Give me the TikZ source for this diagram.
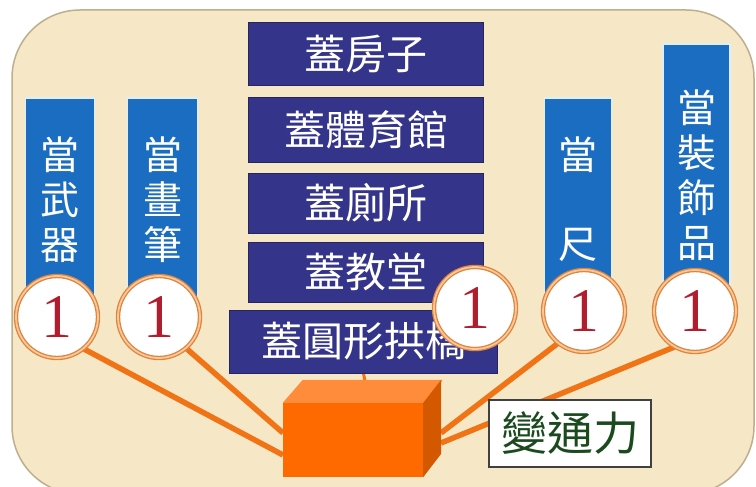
\documentclass[tikz,border=0pt]{standalone}
\usepackage{fontspec}
\newfontfamily\cjk{Noto Sans CJK TC}
\newfontfamily\numfont{Liberation Serif}
\definecolor{bgfill}{HTML}{F6E8C6}
\definecolor{bgline}{HTML}{BDAF8E}
\definecolor{purp}{HTML}{34348A}
\definecolor{purpline}{HTML}{26265E}
\definecolor{blu}{HTML}{1B6DC1}
\definecolor{bluline}{HTML}{DDF0FA}
\definecolor{orln}{HTML}{F07316}
\definecolor{cubefront}{HTML}{FF6A00}
\definecolor{cubetop}{HTML}{FF8C3A}
\definecolor{cubeside}{HTML}{D45800}
\definecolor{ringout}{HTML}{E0843C}
\definecolor{ringin}{HTML}{F6C89C}
\definecolor{numred}{HTML}{B01E2E}
\definecolor{labgreen}{HTML}{1B4A1E}
\pgfdeclarelayer{bg}
\pgfdeclarelayer{mid}
\pgfsetlayers{bg,mid,main}
\tikzset{
  purpbox/.style={draw=purpline, line width=1pt, fill=purp, text=white, inner sep=0pt,
    font=\cjk\fontsize{41}{41}\selectfont},
  blubox/.style={draw=bluline, line width=1.5pt, fill=blu, inner sep=0pt},
  blutext/.style={text=white, inner sep=0pt, align=center,
    font=\cjk\fontsize{39}{45}\selectfont},
  numcirc/.style={circle, minimum size=82pt, inner sep=0pt, fill=white,
    draw=ringout, line width=1.3pt, double=ringin, double distance=1.8pt,
    text=numred, font=\numfont\fontsize{62}{62}\selectfont},
  orline/.style={draw=orln, line width=5.5pt},
  labbox/.style={draw=black!75, line width=1.4pt, fill=white, text=labgreen,
    minimum width=162pt, minimum height=67pt, inner sep=0pt,
    font=\cjk\fontsize{46}{46}\selectfont}
}
\begin{document}
\begin{tikzpicture}[x=1pt,y=-1pt]
\useasboundingbox (0,0) rectangle (756,487);
\begin{pgfonlayer}{bg}
\fill[white] (0,0) rectangle (756,487);
\draw[fill=bgfill, draw=bgline, line width=1.5pt, rounded corners=68pt] (12,10) rectangle (754,494);
\end{pgfonlayer}

% purple stack
\node[purpbox, minimum width=235pt, minimum height=63pt] (p1) at (366,54.5) {蓋房子};
\node[purpbox, minimum width=235pt, minimum height=64pt] (p2) at (366,130) {蓋體育館};
\node[purpbox, minimum width=235pt, minimum height=60pt] (p3) at (366,203) {蓋廁所};
\node[purpbox, minimum width=235pt, minimum height=60pt] (p4) at (366,272) {蓋教堂};
\node[purpbox, minimum width=268pt, minimum height=63pt] (p5) at (363.5,341.5) {蓋圓形拱橋};

% blue vertical boxes
\node[blubox, minimum width=69pt, minimum height=207pt] (b1) at (60,201.5) {};
\node[blubox, minimum width=70pt, minimum height=207pt] (b2) at (162.5,201.5) {};
\node[blubox, minimum width=67pt, minimum height=200pt] (b4) at (578,198) {};
\node[blubox, minimum width=67pt, minimum height=254pt] (b5) at (696.5,171) {};
\node[blutext] (t1) at (60,200) {當\\武\\器};
\node[blutext] (t2) at (162.5,200) {當\\畫\\筆};
\node[blutext] (t4) at (578,199) {當\\[44pt]尺};
\node[blutext] (t5) at (696.5,175.5) {當\\裝\\飾\\品};

% cube (front face as node)
\node[fill=cubefront, minimum width=140pt, minimum height=74pt, inner sep=0pt] (cube) at (353,440) {};
\fill[cubetop] (cube.north west) -- ++(20,-23) -- ++(140,0) -- (cube.north east) -- cycle;
\fill[cubeside] (cube.north east) -- ++(18,-23) -- ++(0,74) -- (cube.south east) -- cycle;
\coordinate (k1) at (283,455);
\coordinate (k2) at (283,433);
\coordinate (k4) at (441,433);
\coordinate (k5) at (441,443);
\coordinate (ktop) at (365,381);

% number circles
\node[numcirc] (c1) at (57,317) {1};
\node[numcirc] (c2) at (159,317) {1};
\node[numcirc] (c3) at (475,308) {1};
\node[numcirc] (c4) at (584,311) {1};
\node[numcirc] (c5) at (695,311) {1};

% label
\node[labbox] (lab) at (570,433.5) {變通力};

% connectors
\begin{pgfonlayer}{mid}
\draw[orline] (c1.310) -- (k1);
\draw[orline] (c2.311) -- (k2);
\draw[orline] (c4.231) -- (k4);
\draw[orline] (c5.240) -- (k5);
\draw[draw=orln, line width=3pt] (p5.south) -- (ktop);
\end{pgfonlayer}
\end{tikzpicture}
\end{document}
